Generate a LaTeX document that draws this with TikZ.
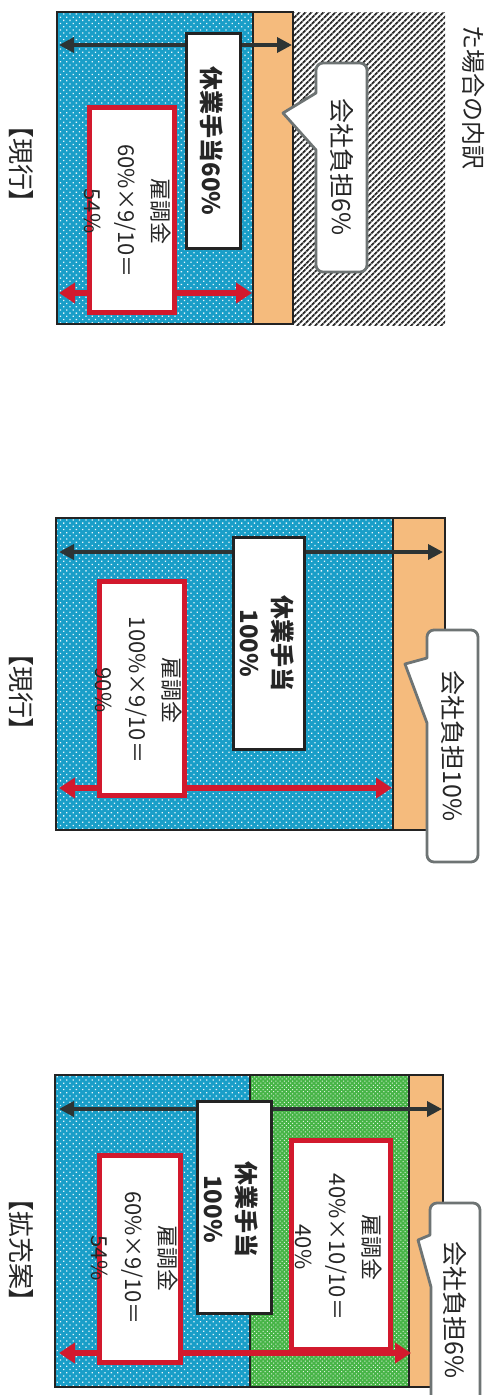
\documentclass[tikz,border=0pt]{standalone}
\usepackage{fontspec}
\setmainfont{Noto Sans CJK JP}
\usetikzlibrary{patterns.meta,arrows.meta}
\definecolor{blu}{RGB}{25,158,200}
\definecolor{grn}{RGB}{70,180,70}
\definecolor{org}{RGB}{245,187,125}
\definecolor{redc}{RGB}{210,25,45}
\definecolor{darkc}{RGB}{45,52,52}
\definecolor{framec}{RGB}{35,35,35}
\definecolor{callc}{RGB}{110,116,116}
\definecolor{hatchc}{RGB}{45,45,45}
\tikzset{
  bluefill/.style={fill=blu, postaction={pattern={Dots[distance=4.5pt,radius=0.9pt,angle=45]}, pattern color=white!90!blu}},
  grnfill/.style={fill=grn, postaction={pattern={Dots[distance=3pt,radius=0.7pt,angle=45]}, pattern color=white!85!grn}},
  orgfill/.style={fill=org},
  hatchfill/.style={fill=white, postaction={pattern={Lines[angle=45,distance=4pt,line width=2pt]}, pattern color=hatchc}},
  frame/.style={draw=framec, line width=2.8pt},
  darkarrow/.style={draw=darkc, line width=3.5pt, {Triangle[length=15pt,width=15pt]}-{Triangle[length=15pt,width=15pt]}},
  redarrow/.style={draw=redc, line width=5.5pt, {Triangle[length=16pt,width=20pt]}-{Triangle[length=16pt,width=20pt]}},
  whitebox/.style={draw=framec, line width=3pt, fill=white, inner sep=0pt},
  redbox/.style={draw=redc, line width=5.5pt, fill=white, inner sep=0pt},
  callout/.style={draw=callc, line width=2.8pt, fill=white, line join=round},
  vtext/.style={rotate=-90, inner sep=0pt, align=center, text=black!85},
  boldtxt/.style={vtext, font=\fontsize{24}{33}\selectfont\bfseries},
  redtxt/.style={vtext, font=\fontsize{22}{34}\selectfont},
  calltxt/.style={vtext, font=\fontsize{25}{30}\selectfont},
  labeltxt/.style={vtext, font=\fontsize{26}{30}\selectfont\addfontfeatures{RawFeature=+palt}},
  toptxt/.style={vtext, font=\fontsize{24}{30}\selectfont},
}
\begin{document}
\begin{tikzpicture}[x=1pt,y=-1pt]
\useasboundingbox (0,0) rectangle (487,1395);

% ---------------- Panel 1 ----------------
\fill[bluefill] (57,12) rectangle (253,324);
\fill[orgfill] (253,12) rectangle (293,324);
\fill[hatchfill] (293,12) rectangle (445,325);
\draw[frame] (57,12) rectangle (293,324);
\draw[frame] (253,12) -- (253,324);
\coordinate (a1l) at (59,45); \coordinate (a1r) at (292,45);
\draw[darkarrow] (a1l) -- (a1r);
\coordinate (r1l) at (59,293); \coordinate (r1r) at (252,293);
\draw[redarrow] (r1l) -- (r1r);
\node[whitebox, minimum width=54pt, minimum height=215pt] (wb1) at (213.5,141) {};
\node[boldtxt] (wt1) at (212,141) {休業手当60\%};
\node[redbox, minimum width=85pt, minimum height=205pt] (rb1) at (132,210) {};
\node[redtxt] (rt1) at (128,211) {雇調金\\60\%×9/10＝\\54\%};
\coordinate (c1a) at (316,93); \coordinate (c1tip) at (283,113); \coordinate (c1b) at (316,150);
\draw[callout] (c1a) -- (c1tip) -- (c1b) [rounded corners=7pt] -- (316,272) -- (367,272) -- (367,63) -- (316,63) [sharp corners] -- cycle;
\node[calltxt] (ct1) at (342,167) {会社負担6\%};
\node[labeltxt] (lb1) at (21,164) {【現行】};
\node[toptxt, anchor=north east] (top) at (485,170) {た場合の内訳};

% ---------------- Panel 2 ----------------
\fill[bluefill] (56,518) rectangle (393,830);
\fill[orgfill] (393,518) rectangle (445,830);
\draw[frame] (56,518) rectangle (445,830);
\draw[frame] (393,518) -- (393,830);
\coordinate (a2l) at (59,552); \coordinate (a2r) at (443,552);
\draw[darkarrow] (a2l) -- (a2r);
\coordinate (r2l) at (59,788); \coordinate (r2r) at (392,788);
\draw[redarrow] (r2l) -- (r2r);
\node[whitebox, minimum width=71pt, minimum height=212pt] (wb2) at (269,643.5) {};
\node[boldtxt] (wt2) at (267,643.5) {休業手当\\100\%};
\node[redbox, minimum width=85pt, minimum height=214pt] (rb2) at (142,688.5) {};
\node[redtxt] (rt2) at (139,690) {雇調金\\100\%×9/10＝\\90\%};
\coordinate (c2a) at (427,658); \coordinate (c2tip) at (405,664); \coordinate (c2b) at (427,723);
\draw[callout] (c2a) -- (c2tip) -- (c2b) [rounded corners=7pt] -- (427,862) -- (478,862) -- (478,630) -- (427,630) [sharp corners] -- cycle;
\node[calltxt] (ct2) at (453,746) {会社負担10\%};
\node[labeltxt] (lb2) at (21,692) {【現行】};

% ---------------- Panel 3 ----------------
\fill[bluefill] (55,1075) rectangle (250,1387);
\fill[grnfill] (250,1075) rectangle (409,1387);
\fill[orgfill] (409,1075) rectangle (443,1387);
\draw[frame] (55,1075) rectangle (443,1387);
\draw[frame] (250,1075) -- (250,1387);
\draw[frame] (409,1075) -- (409,1387);
\coordinate (a3l) at (59,1109); \coordinate (a3r) at (442,1109);
\draw[darkarrow] (a3l) -- (a3r);
\coordinate (r3l) at (59,1353); \coordinate (r3r) at (411,1353);
\draw[redarrow] (r3l) -- (r3r);
\node[whitebox, minimum width=74pt, minimum height=212pt] (wb3) at (234.5,1207.5) {};
\node[boldtxt] (wt3) at (231,1209) {休業手当\\100\%};
\node[redbox, minimum width=81pt, minimum height=207pt] (rb3a) at (140,1259) {};
\node[redtxt] (rt3a) at (135,1258) {雇調金\\60\%×9/10＝\\54\%};
\node[redbox, minimum width=99pt, minimum height=209pt] (rb3b) at (341,1245) {};
\node[redtxt] (rt3b) at (339,1247) {雇調金\\40\%×10/10＝\\40\%};
\coordinate (c3a) at (430,1235); \coordinate (c3tip) at (418,1240); \coordinate (c3b) at (431,1287);
\draw[callout] (c3a) -- (c3tip) -- (c3b) -- (431,1400) -- (480,1400) [rounded corners=7pt] -- (480,1203) -- (430,1203) [sharp corners] -- cycle;
\node[calltxt] (ct3) at (455,1310) {会社負担6\%};
\node[labeltxt] (lb3) at (21,1250) {【拡充案】};
\end{tikzpicture}
\end{document}
